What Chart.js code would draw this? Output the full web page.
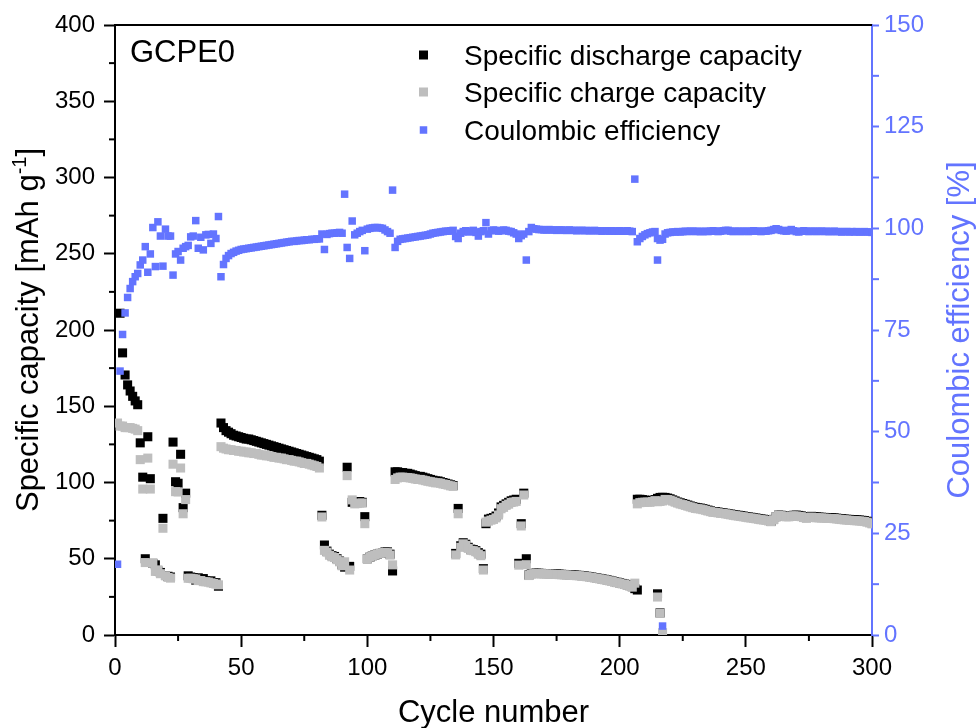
<!DOCTYPE html>
<html>
<head>
<meta charset="utf-8">
<script src="https://cdn.jsdelivr.net/npm/chart.js@4.4.0/dist/chart.umd.min.js"></script>
<style>
html,body{margin:0;padding:0;background:#fff;}
#wrap{width:977px;height:728px;position:relative;}
</style>
</head>
<body>
<div id="wrap"><canvas id="c" width="977" height="728"></canvas></div>
<script>
// ---------- DATA ----------
const firstCycle = 1;
const xTicks = [0, 50, 100, 150, 200, 250, 300];
const yTicks = [0, 50, 100, 150, 200, 250, 300, 350, 400];
const y2Ticks = [0, 25, 50, 75, 100, 125, 150];

// Specific discharge capacity, cycles 1..300 (mAh g-1)
const discharge = [
  null, 211, 185, 170.5, 164, 160, 156.5, 153.5, 151, 126,
  103.5, 50, 130, 102.5, 47, 46, 42, 41, 76.5, 39,
  38.5, 38, 126.5, 100.5, 99.5, 118.5, 83.5, 93, 38.8, 38,
  37.6, 36, 37.5, 36.5, 37, 35.5, 35.2, 35.5, 34.3, 34.3,
  32, 139, 136, 134, 133, 132, 131, 130.5, 130, 129.5,
  129, 128.5, 128.5, 128, 127.5, 127, 126.5, 126, 125.5, 125,
  124.5, 124, 123.5, 123, 122.5, 122, 121.5, 121, 120.5, 120,
  119.5, 119, 118.5, 118, 117.5, 117, 116.5, 116, 115.5, 115,
  114, 78.5, 59, 55, 53, 52, 51.5, 50, 48.5, 46,
  44.5, 110, 45, 87, 87.5, 87.5, 87.5, 87, 77.6, 50,
  51, 52, 52.5, 53, 53.5, 54, 54.5, 54.5, 53, 42,
  107, 107, 106.5, 106.5, 106, 106, 105.5, 105, 104.5, 104,
  104, 103.5, 103, 102.5, 102, 101.5, 101, 101, 100.5, 100,
  99.5, 99, 98.5, 98, 53.5, 83, 58.5, 60.5, 59.5, 57.5,
  56.3, 56, 55.3, 54, 53, 43.5, 73, 76, 76.5, 77,
  78, 80, 84, 85, 86, 87, 88, 88.5, 89, 47,
  73, 93, 50, 39.3, 40.3, 40.5, 40.5, 40.5, 40.4, 40.3,
  40.3, 40.2, 40.1, 40.1, 40, 39.9, 39.8, 39.7, 39.6, 39.5,
  39.4, 39.3, 39.2, 39.1, 38.9, 38.7, 38.5, 38.3, 38, 37.7,
  37.4, 37.1, 36.8, 36.5, 36.2, 35.8, 35.4, 35, 34.6, 34.2,
  33.8, 33.4, 32.9, 32.4, 31.7, 30.4, 89, 89, 88.8, 88.5,
  88.2, 88, 88.3, 88.8, 89.6, 90.2, 90.3, 90.2, 89.8, 89.3,
  88.6, 87.9, 87.2, 86.7, 86.2, 85.7, 85.2, 84.6, 84.1, 83.7,
  83.4, 83.2, 82.8, 82.4, 81.9, 81.4, 80.9, 80.9, 80.6, 80.3,
  80.1, 79.8, 79.6, 79.3, 79, 78.7, 78.5, 78.2, 78, 77.7,
  77.4, 77.2, 76.9, 76.7, 76.4, 76.1, 75.9, 75.7, 75.2, 74.6,
  75.8, 77.6, 78.6, 78.5, 78.3, 78, 77.8, 78.2, 78.5, 78.6,
  78.4, 78.1, 77.4, 77, 77.6, 77.8, 77.5, 77.4, 77.3, 77.2,
  77.1, 77, 76.9, 76.9, 76.8, 76.6, 76.4, 76.2, 76, 75.9,
  75.8, 75.7, 75.6, 75.5, 75.4, 75.2, 75, 74.6, 74.1, 73.6
];

// Specific charge capacity, cycles 1..300 (mAh g-1)
const charge = [
  139, 137, 137, 136, 136, 136, 135.5, 135, 134, 115,
  95.7, 47.5, 116, 95.7, 47, 41.7, 42.7, 40.2, 70, 38.9,
  37.8, 37.3, 112, 94, 93.8, 109.5, 79.5, 88.8, 37.2, 37.2,
  36.9, 36.7, 35.7, 35.7, 35, 34.9, 34.7, 34.2, 33.8, 33.4,
  32.9, 123.5, 122.5, 122, 121.5, 121.5, 121, 121, 120.5, 120.5,
  120, 120, 119.5, 119.5, 119, 119, 118.5, 118, 118, 117.5,
  117.5, 117, 116.5, 116.5, 116, 116, 115.5, 115, 115, 114.5,
  114, 114, 113.5, 113, 112.5, 112.5, 112, 111.5, 111, 110.5,
  109.5, 77.4, 55.5, 54.3, 52.3, 51.3, 50.8, 49.4, 48, 45.4,
  48, 104.5, 42.6, 88.6, 86, 86.2, 86.5, 86.5, 73, 50,
  51, 52, 52.5, 53, 53.5, 54, 54.2, 54, 52.4, 46,
  102, 103, 103.5, 103.5, 103.3, 103.2, 103, 102.7, 102.3, 102,
  102, 101.6, 101.2, 100.8, 100.5, 100.2, 99.8, 99.8, 99.5, 99,
  98.7, 98.3, 97.8, 97.5, 52.5, 79.5, 57.5, 59.8, 58.8, 56.8,
  55.5, 55.3, 54.6, 53, 52, 42.6, 74, 74.7, 75.3, 75.8,
  76.8, 78.7, 82.8, 83.7, 85, 85.8, 86.9, 87.2, 87.6, 45.8,
  71.5, 91.8, 46.1, 39, 40, 40.2, 40.2, 40.2, 40.1, 40,
  40, 39.9, 39.8, 39.8, 39.7, 39.6, 39.5, 39.4, 39.3, 39.2,
  39.1, 39, 38.9, 38.8, 38.6, 38.4, 38.2, 38, 37.7, 37.4,
  37.1, 36.8, 36.5, 36.2, 35.9, 35.5, 35.1, 34.7, 34.3, 33.9,
  33.5, 33.1, 32.6, 32.1, 31.4, 34, 86, 86.8, 87, 87.1,
  87.1, 87, 87.5, 88.1, 87.4, 87.6, 87.9, 88.9, 88.8, 88.4,
  87.8, 87.1, 86.5, 85.9, 85.5, 85, 84.5, 84, 83.5, 83,
  82.8, 82.6, 82.2, 81.8, 81.3, 80.9, 80.5, 80.4, 80.1, 79.8,
  79.7, 79.4, 79.2, 78.8, 78.5, 78.2, 78, 77.7, 77.5, 77.2,
  76.9, 76.7, 76.5, 76.2, 75.9, 75.6, 75.4, 75.2, 74.8, 74.3,
  75.6, 77.6, 78.4, 78.2, 77.9, 77.5, 77.5, 78, 78.1, 78,
  77.8, 77.6, 77, 76.5, 77.1, 77.3, 77, 76.9, 76.8, 76.7,
  76.6, 76.5, 76.4, 76.4, 76.3, 76.1, 75.9, 75.7, 75.5, 75.4,
  75.2, 75.1, 75, 74.9, 74.8, 74.6, 74.4, 74, 73.5, 72.9
];

// Coulombic efficiency, cycles 1..300 (%)
const efficiency = [
  17.4, 64.9, 73.9, 79.2, 83, 85.2, 86.9, 88.1, 88.9, 91,
  92.2, 95.5, 89.2, 93.7, 100.2, 90.6, 101.6, 98.1, 90.7, 99.8,
  98.1, 98.1, 88.5, 93.7, 94.3, 92.2, 95.1, 95.5, 95.8, 97.9,
  98.1, 101.9, 95.1, 97.8, 94.7, 98.4, 98.5, 96.3, 98.6, 97.5,
  102.9, 88.1, 91.1, 92.6, 93.3, 93.8, 94.1, 94.4, 94.6, 94.8,
  94.9, 95, 95.1, 95.2, 95.3, 95.4, 95.5, 95.6, 95.7, 95.8,
  95.9, 96, 96.1, 96.2, 96.3, 96.4, 96.5, 96.6, 96.7, 96.8,
  96.8, 96.9, 97, 97, 97.1, 97.2, 97.2, 97.3, 97.3, 97.4,
  97.4, 98.6, 94.8, 98.5, 98.7, 98.8, 98.8, 98.9, 99, 98.8,
  108.4, 95.3, 92.6, 101.8, 98.4, 98.8, 99.2, 99.5, 94.5, 99.8,
  100, 100.1, 100.2, 100.2, 100.1, 100, 99.6, 99.2, 98.8, 109.4,
  95.3, 96.8, 97.3, 97.4, 97.5, 97.6, 97.7, 97.8, 97.9, 98,
  98.1, 98.2, 98.3, 98.4, 98.6, 98.8, 98.9, 99, 99.1, 99.2,
  99.3, 99.3, 99.4, 99.5, 98, 97.5, 98.8, 99.2, 99.4, 99.1,
  99.3, 99.5, 99, 98.1, 99.2, 99.4, 101.4, 98.6, 99.4, 99.6,
  99.5, 99.3, 99.4, 99.6, 99.5, 99.3, 99.2, 98.9, 98.6, 97.5,
  98.2, 98.6, 92.2, 99.2, 100.2, 99.9, 99.8, 99.7, 99.7, 99.6,
  99.6, 99.7, 99.6, 99.6, 99.5, 99.6, 99.6, 99.5, 99.5, 99.6,
  99.5, 99.5, 99.4, 99.5, 99.5, 99.4, 99.5, 99.4, 99.4, 99.5,
  99.4, 99.4, 99.3, 99.4, 99.4, 99.3, 99.4, 99.3, 99.3, 99.4,
  99.3, 99.3, 99.4, 99.3, 99.2, 112.1, 96.7, 97.5, 98, 98.4,
  98.7, 98.9, 99.1, 99.2, 97.5, 97.1, 97.3, 98.6, 98.9, 99,
  99.1, 99.1, 99.2, 99.1, 99.2, 99.3, 99.2, 99.3, 99.3, 99.2,
  99.3, 99.2, 99.2, 99.3, 99.2, 99.3, 99.4, 99.3, 99.2, 99.3,
  99.4, 99.5, 99.5, 99.3, 99.2, 99.3, 99.3, 99.2, 99.3, 99.3,
  99.2, 99.3, 99.4, 99.3, 99.3, 99.2, 99.3, 99.3, 99.4, 99.5,
  99.7, 99.9, 99.7, 99.5, 99.4, 99.3, 99.5, 99.7, 99.4, 99.2,
  99.1, 99.3, 99.4, 99.3, 99.2, 99.3, 99.3, 99.2, 99.3, 99.3,
  99.2, 99.3, 99.2, 99.2, 99.3, 99.2, 99.2, 99.1, 99.2, 99.2,
  99.1, 99.2, 99.1, 99.2, 99.1, 99.1, 99.2, 99.1, 99.1, 99
];

// Extra points that share a cycle number with the main series (failing cell)
const extraDischargeCycles = [207, 215, 216];
const extraDischarge = [29.5, 27, 14.5];
const extraChargeCycles = [215, 216, 217];
const extraCharge = [24.9, 14.2, 1.5];
const extraEfficiencyCycles = [215, 217];
const extraEfficiency = [92.2, 2.2];

// ---------- STYLE ----------
const FONT = "'Liberation Sans', Arial, Helvetica, sans-serif";
const BLUE = 'rgb(99,116,255)';
const GREY = 'rgb(190,190,190)';

function seriesPoints(values, start) {
  const pts = [];
  values.forEach((v, i) => { if (v !== null) pts.push({ x: start + i, y: v }); });
  return pts;
}
function pairPoints(xs, ys) { return xs.map((x, i) => ({ x: x, y: ys[i] })); }

const minorAndFrame = {
  id: 'minorAndFrame',
  afterDraw(chart) {
    const { ctx, chartArea: a, scales } = chart;
    ctx.save();
    ctx.lineWidth = 2;
    const line = (x1, y1, x2, y2) => { ctx.beginPath(); ctx.moveTo(x1, y1); ctx.lineTo(x2, y2); ctx.stroke(); };
    ctx.strokeStyle = '#000';
    for (let i = 0; i < xTicks.length - 1; i++) {
      const p = scales.x.getPixelForValue((xTicks[i] + xTicks[i + 1]) / 2);
      line(p, a.bottom, p, a.bottom + 6);
    }
    for (let i = 0; i < yTicks.length - 1; i++) {
      const p = scales.y.getPixelForValue((yTicks[i] + yTicks[i + 1]) / 2);
      line(a.left, p, a.left - 6, p);
    }
    ctx.strokeStyle = BLUE;
    for (let i = 0; i < y2Ticks.length - 1; i++) {
      const p = scales.y2.getPixelForValue((y2Ticks[i] + y2Ticks[i + 1]) / 2);
      line(a.right, p, a.right + 7, p);
    }
    // top frame
    ctx.strokeStyle = '#000';
    line(a.left - 1, a.top, a.right, a.top);

    // sample label
    ctx.fillStyle = '#000';
    ctx.textAlign = 'left';
    ctx.textBaseline = 'alphabetic';
    ctx.font = '31px ' + FONT;
    ctx.fillText('GCPE0', 130, 62);

    // legend
    const legend = [
      ['Specific discharge capacity', '#000', 9, 55],
      ['Specific charge capacity', GREY, 9, 92],
      ['Coulombic efficiency', BLUE, 7.5, 130]
    ];
    ctx.font = '28px ' + FONT;
    legend.forEach(([t, c, s, y]) => {
      ctx.fillStyle = c;
      ctx.fillRect(423.5 - s / 2, y - s / 2, s, s);
      ctx.fillStyle = '#000';
      ctx.fillText(t, 464, y + 10);
    });

    // x title
    ctx.textAlign = 'center';
    ctx.font = '31px ' + FONT;
    ctx.fillText('Cycle number', (a.left + a.right) / 2, 722);

    // left title with superscript
    ctx.save();
    ctx.translate(38, (a.top + a.bottom) / 2);
    ctx.rotate(-Math.PI / 2);
    ctx.textAlign = 'left';
    const main = 'Specific capacity [mAh g', sup = '-1', end = ']';
    ctx.font = '31px ' + FONT; const w1 = ctx.measureText(main).width; const w3 = ctx.measureText(end).width;
    ctx.font = '20px ' + FONT; const w2 = ctx.measureText(sup).width;
    let x = -(w1 + w2 + w3) / 2;
    ctx.fillStyle = '#000';
    ctx.font = '31px ' + FONT; ctx.fillText(main, x, 0); x += w1;
    ctx.font = '20px ' + FONT; ctx.fillText(sup, x, -12); x += w2;
    ctx.font = '31px ' + FONT; ctx.fillText(end, x, 0);
    ctx.restore();

    // right title
    ctx.save();
    ctx.translate(969, (a.top + a.bottom) / 2);
    ctx.rotate(-Math.PI / 2);
    ctx.textAlign = 'center';
    ctx.fillStyle = BLUE;
    ctx.font = '31px ' + FONT;
    ctx.fillText('Coulombic efficiency [%]', 0, 0);
    ctx.restore();

    ctx.restore();
  }
};

const tickFont = { family: FONT, size: 24 };

new Chart(document.getElementById('c'), {
  type: 'scatter',
  data: {
    datasets: [
      {
        label: 'Specific discharge capacity',
        data: seriesPoints(discharge, firstCycle).concat(pairPoints(extraDischargeCycles, extraDischarge)),
        yAxisID: 'y', backgroundColor: '#000', pointStyle: 'rect',
        pointRadius: 6.4, pointBorderWidth: 0, pointHoverRadius: 6.4, order: 3
      },
      {
        label: 'Specific charge capacity',
        data: seriesPoints(charge, firstCycle).concat(pairPoints(extraChargeCycles, extraCharge)),
        yAxisID: 'y', backgroundColor: GREY, pointStyle: 'rect',
        pointRadius: 6.4, pointBorderWidth: 0, pointHoverRadius: 6.4, order: 2
      },
      {
        label: 'Coulombic efficiency',
        data: seriesPoints(efficiency, firstCycle).concat(pairPoints(extraEfficiencyCycles, extraEfficiency)),
        yAxisID: 'y2', backgroundColor: BLUE, pointStyle: 'rect',
        pointRadius: 5.3, pointBorderWidth: 0, pointHoverRadius: 5.3, order: 1
      }
    ]
  },
  options: {
    responsive: false,
    animation: false,
    events: [],
    layout: { padding: { top: 25, left: 0, right: 0, bottom: 0 } },
    plugins: { legend: { display: false }, tooltip: { enabled: false }, title: { display: false } },
    scales: {
      x: {
        type: 'linear', position: 'bottom', min: xTicks[0], max: xTicks[xTicks.length - 1],
        afterBuildTicks: s => { s.ticks = xTicks.map(v => ({ value: v })); },
        ticks: { color: '#000', font: tickFont, padding: 7, maxRotation: 0, autoSkip: false },
        grid: { drawOnChartArea: false, drawTicks: true, tickLength: 12, tickWidth: 2, tickColor: '#000', color: '#000' },
        border: { display: true, color: '#000', width: 2 },
        afterFit: s => { s.height = 93; }
      },
      y: {
        type: 'linear', position: 'left', min: yTicks[0], max: yTicks[yTicks.length - 1],
        afterBuildTicks: s => { s.ticks = yTicks.map(v => ({ value: v })); },
        ticks: { color: '#000', font: tickFont, padding: 9, autoSkip: false },
        grid: { drawOnChartArea: false, drawTicks: true, tickLength: 11, tickWidth: 2, tickColor: '#000', color: '#000' },
        border: { display: true, color: '#000', width: 2 },
        afterFit: s => { s.width = 115; }
      },
      y2: {
        type: 'linear', position: 'right', min: y2Ticks[0], max: y2Ticks[y2Ticks.length - 1],
        afterBuildTicks: s => { s.ticks = y2Ticks.map(v => ({ value: v })); },
        ticks: { color: BLUE, font: tickFont, padding: 5, autoSkip: false },
        grid: { drawOnChartArea: false, drawTicks: true, tickLength: 7, tickWidth: 2, tickColor: BLUE, color: BLUE },
        border: { display: true, color: BLUE, width: 2 },
        afterFit: s => { s.width = 105; }
      }
    }
  },
  plugins: [minorAndFrame]
});
</script>
</body>
</html>
